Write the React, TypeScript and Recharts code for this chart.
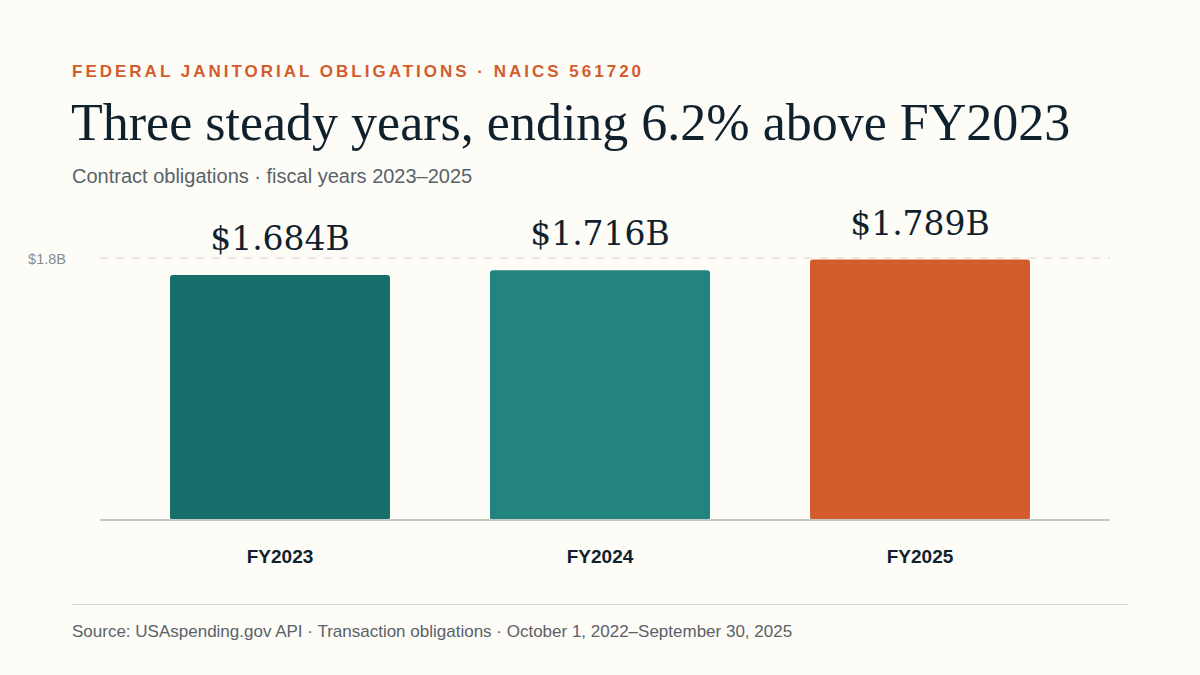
import React from "react";
import { BarChart, Bar, XAxis, YAxis, CartesianGrid, Cell, LabelList } from "recharts";

const categories = ["FY2023", "FY2024", "FY2025"];
const obligations = [1.684, 1.716, 1.789];
const valueLabels = ["$1.684B", "$1.716B", "$1.789B"];
const barColors = ["#186e6b", "#23837e", "#d35c2d"];
const yTicks = [1.8];
const yTickLabels = ["$1.8B"];

const data = categories.map((c, i) => ({ name: c, value: obligations[i], label: valueLabels[i] }));

const BG = "#fdfcf7";
const INK = "#10212e";
const SERIF = "'DejaVu Serif', Georgia, serif";
const TITLE_SERIF = "'Liberation Serif', Georgia, serif";
const SANS = "'Liberation Sans', Arial, sans-serif";

const ValueLabel = (props: any) => {
  const { x, y, width, index } = props;
  return (
    <text
      x={x + width / 2}
      y={y - 25}
      textAnchor="middle"
      fontFamily={SERIF}
      fontSize={33}
      fill={INK}
    >
      {valueLabels[index]}
    </text>
  );
};

const YTick = (props: any) => {
  const { y, payload } = props;
  const idx = yTicks.indexOf(payload.value);
  return (
    <text x={66} y={y} dy={5.5} textAnchor="end" fontFamily={SANS} fontSize={14.5} fill="#858d93">
      {idx >= 0 ? yTickLabels[idx] : ""}
    </text>
  );
};

const XTick = (props: any) => {
  const { x, y, payload } = props;
  return (
    <text x={x} y={y} dy={35} textAnchor="middle" fontFamily={SANS} fontSize={19} fontWeight={700} fill={INK}>
      {payload.value}
    </text>
  );
};

export default function App() {
  return (
    <div
      style={{
        position: "absolute",
        left: 0,
        top: 0,
        width: 1200,
        height: 675,
        background: BG,
        overflow: "hidden",
      }}
    >
      <div
        style={{
          position: "absolute",
          left: 72,
          top: 62,
          fontFamily: SANS,
          fontWeight: 700,
          fontSize: 17,
          letterSpacing: 3,
          color: "#d35c2d",
          lineHeight: "19px",
          whiteSpace: "nowrap",
        }}
      >
        FEDERAL JANITORIAL OBLIGATIONS · NAICS 561720
      </div>
      <div
        style={{
          position: "absolute",
          left: 71,
          top: 94.5,
          fontFamily: TITLE_SERIF,
          fontSize: 52,
          color: INK,
          lineHeight: "56px",
          whiteSpace: "nowrap",
        }}
      >
        Three steady years, ending 6.2% above FY2023
      </div>
      <div
        style={{
          position: "absolute",
          left: 72,
          top: 165,
          fontFamily: SANS,
          fontSize: 20,
          color: "#59636b",
          lineHeight: "22px",
          whiteSpace: "nowrap",
        }}
      >
        Contract obligations · fiscal years 2023–2025
      </div>
      <div style={{ position: "absolute", left: 0, top: 0 }}>
        <BarChart
          width={1200}
          height={675}
          data={data}
          margin={{ top: 258, right: 90, bottom: 115, left: 0 }}
          barSize={220}
        >
          <CartesianGrid horizontal vertical={false} stroke="#e4e1d9" strokeDasharray="8 8" strokeWidth={1.5} />
          <XAxis
            dataKey="name"
            padding={{ left: 20, right: 30 }}
            axisLine={{ stroke: "#c9c9c4", strokeWidth: 2 }}
            tickLine={false}
            tick={<XTick />}
            height={40}
          />
          <YAxis
            domain={[0, 1.8]}
            ticks={yTicks}
            axisLine={false}
            tickLine={false}
            tick={<YTick />}
            width={100}
          />
          <Bar dataKey="value" radius={[3, 3, 3, 3]} isAnimationActive={false}>
            {data.map((d, i) => (
              <Cell key={d.name} fill={barColors[i]} />
            ))}
            <LabelList dataKey="label" content={<ValueLabel />} />
          </Bar>
        </BarChart>
      </div>
      <div
        style={{
          position: "absolute",
          left: 72,
          top: 604,
          width: 1056,
          height: 1,
          background: "#d6d4ce",
        }}
      />
      <div
        style={{
          position: "absolute",
          left: 72,
          top: 622,
          fontFamily: SANS,
          fontSize: 17,
          color: "#5a6168",
          lineHeight: "19px",
          whiteSpace: "nowrap",
        }}
      >
        Source: USAspending.gov API · Transaction obligations · October 1, 2022–September 30, 2025
      </div>
    </div>
  );
}
